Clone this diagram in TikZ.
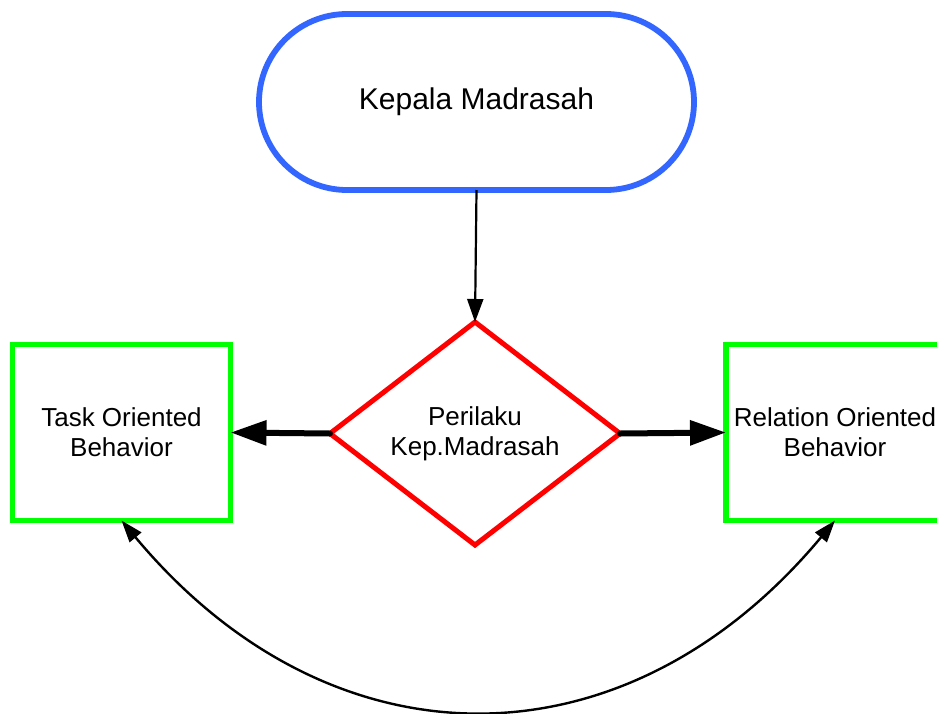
\documentclass[tikz,border=0pt]{standalone}
\usepackage{fontspec}
\setmainfont{Liberation Sans}
\usetikzlibrary{shapes.geometric,arrows.meta}
\definecolor{kblue}{RGB}{51,102,255}
\definecolor{kgreen}{RGB}{0,255,0}
\definecolor{kred}{RGB}{255,0,0}
\begin{document}
\begin{tikzpicture}[x=1pt,y=-1pt,
  stadium/.style={draw=kblue,line width=5.8pt,rounded corners=88pt,minimum width=435pt,minimum height=176pt,inner sep=0pt,outer sep=0pt,font=\fontsize{30}{36}\selectfont},
  actbox/.style={draw=kgreen,line width=5.5pt,minimum width=218pt,minimum height=176pt,inner sep=0pt,outer sep=0pt,align=center,font=\fontsize{26}{30}\selectfont},
  decide/.style={draw=kred,line width=5pt,shape=diamond,aspect=1.3,minimum width=290pt,minimum height=223pt,inner sep=0pt,outer sep=0pt,align=center,font=\fontsize{26}{30}\selectfont},
  thinarrow/.style={line width=2.2pt,-{Triangle[length=23pt,width=16pt]}},
  thickarrow/.style={line width=6pt,line cap=round,-{Triangle[length=36pt,width=24pt]}},
  curvearrow/.style={line width=2.4pt,{Triangle[length=22pt,width=15pt]}-{Triangle[length=22pt,width=15pt]}}
]
\useasboundingbox (0,0) rectangle (937,713);
\node[stadium] (kep) at (476.5,102) {Kepala Madrasah};
\node[decide] (dia) at (475,433.5) {Perilaku\\Kep.Madrasah};
\node[actbox] (task) at (121.5,432.5) {Task Oriented\\Behavior};
\node[actbox] (rel) at (835,432.5) {Relation Oriented\\Behavior};
\draw[thinarrow] (kep.south) -- (dia.north);
\draw[thickarrow] (dia.west) -- (task.east);
\draw[thickarrow] (dia.east) -- (rel.west);
\draw[curvearrow] (task.south) .. controls +(210,252) and +(-210,252) .. (rel.south);
\end{tikzpicture}
\end{document}
